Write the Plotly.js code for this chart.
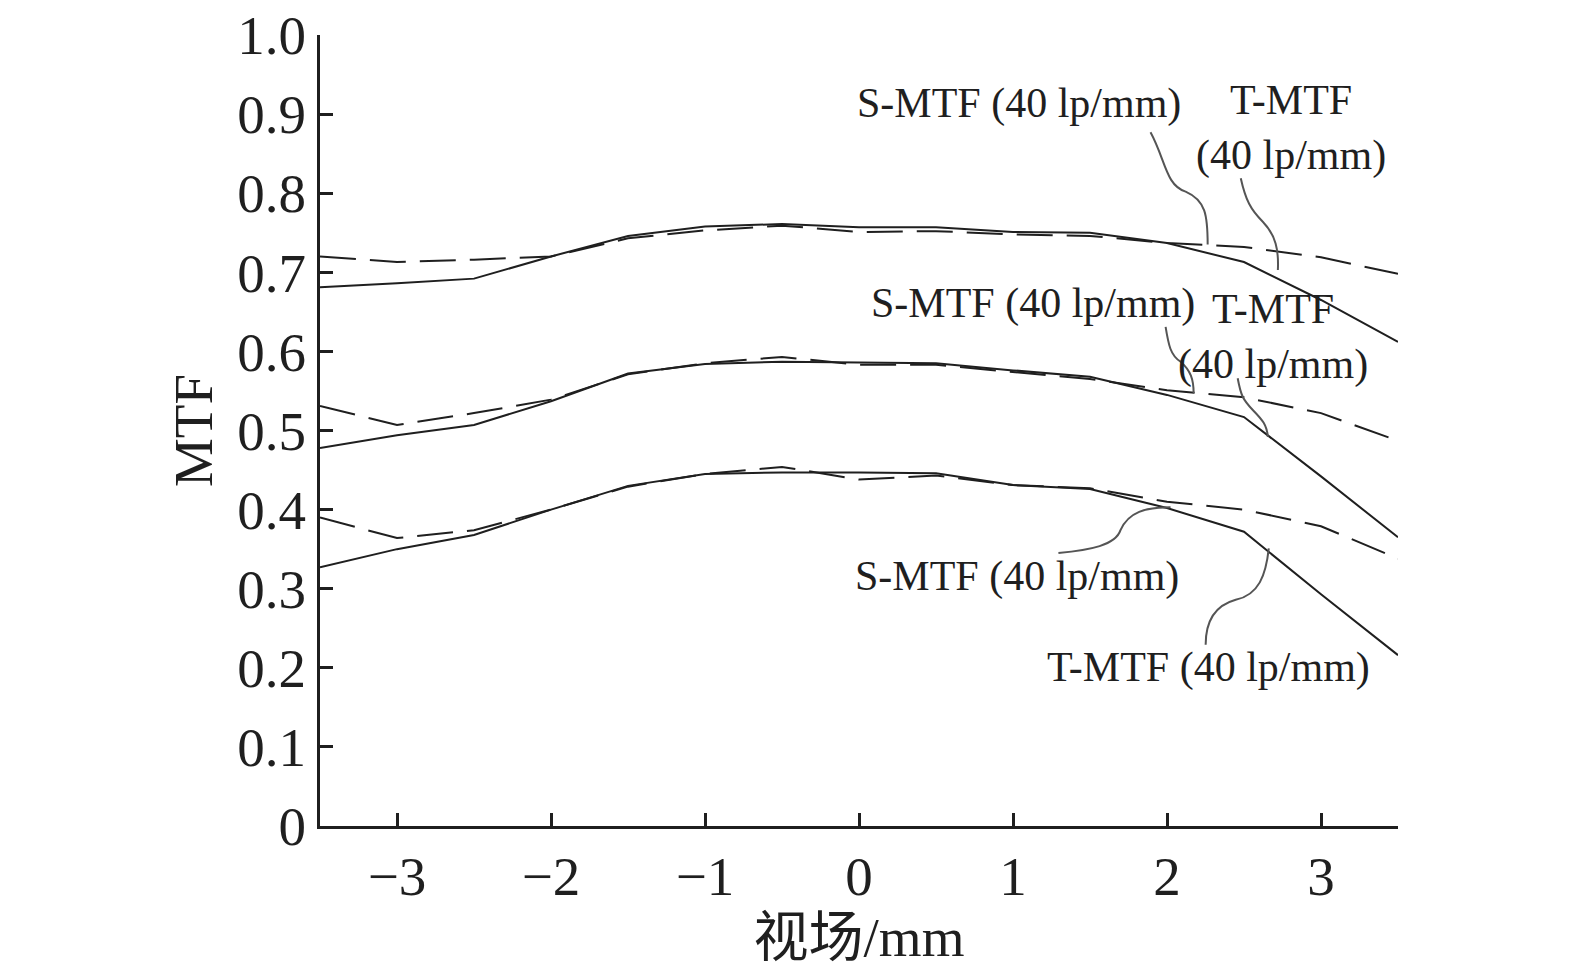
<!DOCTYPE html>
<html>
<head>
<meta charset="utf-8">
<script src="https://cdn.plot.ly/plotly-3.0.1.min.js"></script>
<style>
  html, body { margin: 0; padding: 0; background: #fff; }
  #chart { width: 1575px; height: 972px; }
</style>
</head>
<body>
<div id="chart"></div>
<script>
// field positions (mm)
const field = [-3.5, -3, -2.5, -2, -1.5, -1, -0.5, 0, 0.5, 1, 1.5, 2, 2.5, 3, 3.5];

// three pairs of curves, T = solid, S = dashed
const tHigh = [0.681, 0.686, 0.692, 0.720, 0.746, 0.758, 0.761, 0.757, 0.757, 0.751, 0.750, 0.737, 0.713, 0.665, 0.612];
const sHigh = [0.720, 0.713, 0.716, 0.720, 0.743, 0.753, 0.759, 0.751, 0.752, 0.748, 0.746, 0.737, 0.732, 0.719, 0.698];
const tMid  = [0.478, 0.494, 0.507, 0.537, 0.572, 0.584, 0.587, 0.586, 0.585, 0.576, 0.568, 0.545, 0.517, 0.442, 0.365];
const sMid  = [0.531, 0.507, 0.522, 0.539, 0.571, 0.585, 0.593, 0.583, 0.583, 0.574, 0.565, 0.551, 0.542, 0.522, 0.487];
const tLow  = [0.327, 0.350, 0.368, 0.400, 0.430, 0.445, 0.447, 0.447, 0.446, 0.431, 0.426, 0.402, 0.372, 0.293, 0.216];
const sLow  = [0.390, 0.364, 0.374, 0.400, 0.429, 0.445, 0.454, 0.438, 0.443, 0.431, 0.427, 0.410, 0.400, 0.379, 0.338];

const xTickVals = [-3, -2, -1, 0, 1, 2, 3];
const xTickText = ['\u22123', '\u22122', '\u22121', '0', '1', '2', '3'];
const yTickVals = [0, 0.1, 0.2, 0.3, 0.4, 0.5, 0.6, 0.7, 0.8, 0.9, 1.0];
const yTickText = ['0', '0.1', '0.2', '0.3', '0.4', '0.5', '0.6', '0.7', '0.8', '0.9', '1.0'];

// curve labels
const labelText = [
  'S-MTF (40 lp/mm)',
  'T-MTF<br>(40 lp/mm)',
  'S-MTF (40 lp/mm)',
  'T-MTF<br>(40 lp/mm)',
  'S-MTF (40 lp/mm)',
  'T-MTF (40 lp/mm)'
];
const labelX = [1.041, 2.804, 1.132, 2.687, 1.028, 2.271];
const labelY = [0.914, 0.882, 0.660, 0.618, 0.315, 0.200];

// wavy leader lines from each label to its curve (data units)
const leaders = [
  'M1.893,0.877 C1.991,0.842 1.991,0.810 2.121,0.802 C2.251,0.791 2.264,0.772 2.264,0.735',
  'M2.479,0.819 C2.511,0.791 2.544,0.779 2.622,0.764 C2.707,0.747 2.726,0.728 2.720,0.703',
  'M1.991,0.631 C2.010,0.608 2.023,0.595 2.088,0.587 C2.154,0.576 2.173,0.564 2.173,0.547',
  'M2.459,0.566 C2.479,0.545 2.492,0.539 2.557,0.526 C2.622,0.513 2.648,0.507 2.655,0.492',
  'M1.295,0.345 C1.503,0.349 1.666,0.355 1.698,0.374 C1.750,0.397 1.861,0.403 2.023,0.403',
  'M2.251,0.229 C2.251,0.260 2.316,0.279 2.446,0.286 C2.596,0.292 2.642,0.317 2.661,0.351'
];

const serif = '"Liberation Serif", "Times New Roman", serif';
const ink = '#1f1f1f';

function curve(y, dashed) {
  return {
    x: field,
    y: y,
    type: 'scatter',
    mode: 'lines',
    line: { color: ink, width: 2, dash: dashed ? '36px,14px' : 'solid' },
    hoverinfo: 'skip',
    showlegend: false,
  };
}

const traces = [
  curve(sHigh, true), curve(tHigh, false),
  curve(sMid, true), curve(tMid, false),
  curve(sLow, true), curve(tLow, false),
];

const layout = {
  width: 1575,
  height: 972,
  paper_bgcolor: '#ffffff',
  plot_bgcolor: '#ffffff',
  margin: { l: 320, r: 177, t: 35, b: 146 },
  font: { family: serif, color: ink, size: 55 },
  showlegend: false,
  xaxis: {
    range: [-3.5, 3.5],
    tickvals: xTickVals,
    ticktext: xTickText,
    ticks: 'inside',
    ticklen: 13,
    tickwidth: 3,
    tickcolor: ink,
    showline: true,
    linewidth: 3,
    linecolor: ink,
    showgrid: false,
    zeroline: false,
    tickfont: { family: serif, size: 55, color: ink },
    title: {
      text: '视场/mm',
      font: { family: serif + ', "Noto Sans CJK SC"', size: 55, color: ink },
      standoff: 6,
    },
  },
  yaxis: {
    range: [0, 1],
    tickvals: yTickVals,
    ticktext: yTickText,
    ticks: 'inside',
    ticklen: 13,
    tickwidth: 3,
    tickcolor: ink,
    showline: true,
    linewidth: 3,
    linecolor: ink,
    showgrid: false,
    zeroline: false,
    tickfont: { family: serif, size: 55, color: ink },
    title: { text: 'MTF', font: { family: serif, size: 55, color: ink }, standoff: 8 },
  },
  annotations: labelText.map((t, i) => ({
    x: labelX[i],
    y: labelY[i],
    xref: 'x',
    yref: 'y',
    text: t,
    showarrow: false,
    align: 'center',
    font: { family: serif, size: 42, color: ink },
  })),
  shapes: leaders.map(p => ({
    type: 'path',
    xref: 'x',
    yref: 'y',
    path: p,
    line: { color: '#555555', width: 2 },
  })),
};

Plotly.newPlot('chart', traces, layout, { staticPlot: true });
</script>
</body>
</html>
